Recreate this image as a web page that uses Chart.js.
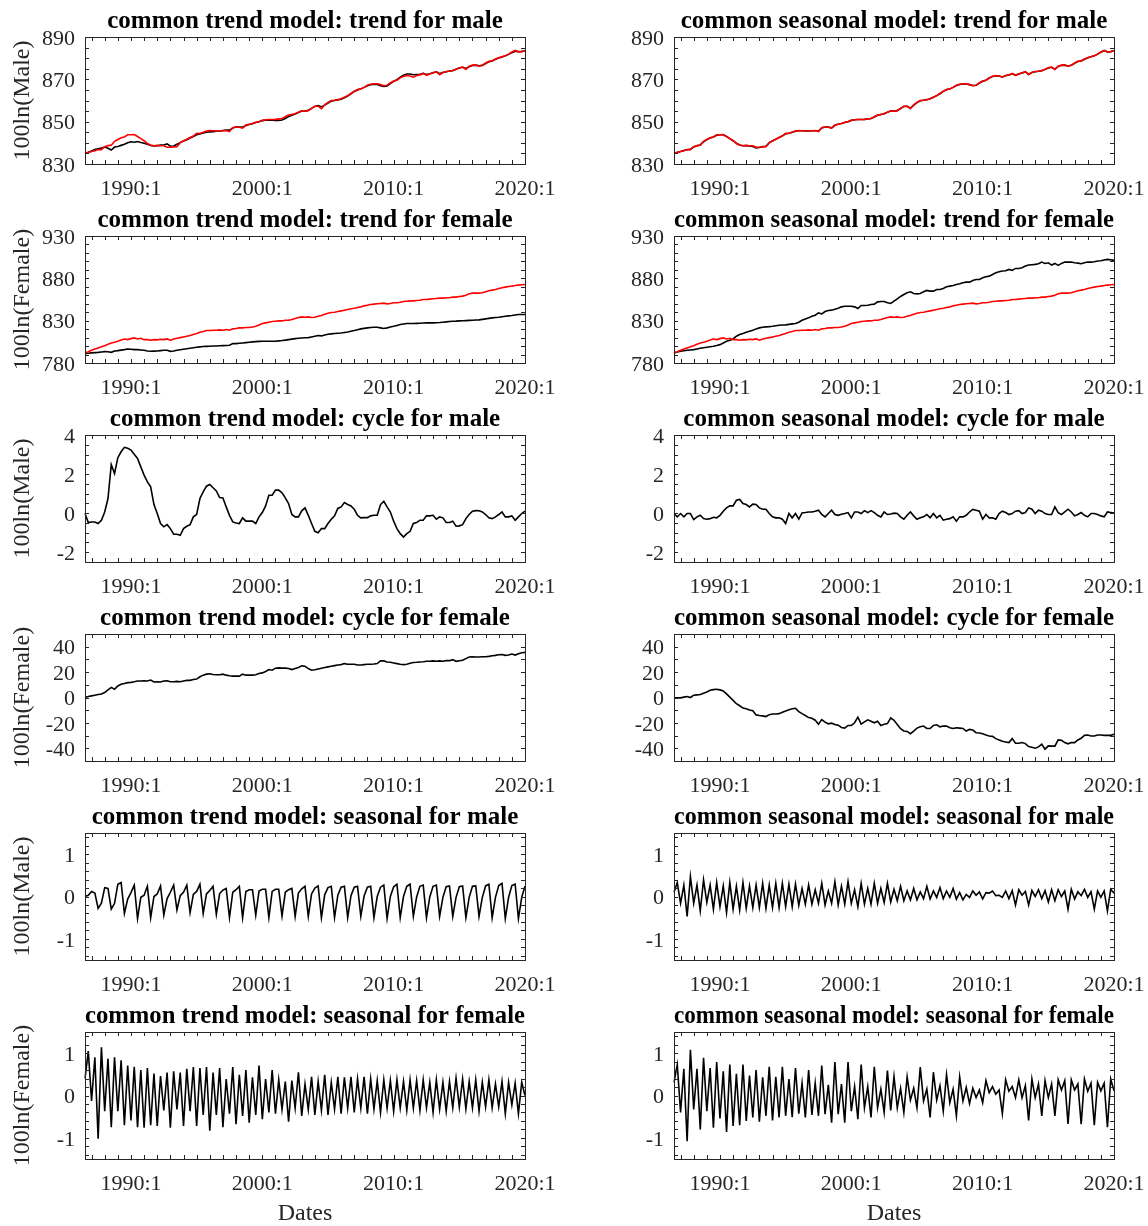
<!DOCTYPE html>
<html>
<head>
<meta charset="utf-8">
<script src="https://cdn.jsdelivr.net/npm/chart.js@4.4.1/dist/chart.umd.min.js"></script>
<style>
  body { margin: 0; background: #fff; }
  #page { position: relative; width: 1148px; height: 1226px; overflow: hidden; background: #fff; }
  #page canvas { position: absolute; }
</style>
</head>
<body>
<div id="page"></div>
<script>
// quarterly dates 1986:3 .. 2020:1
const quarters = [];
for (let y = 1986; y <= 2020; y++) {
  for (let q = 1; q <= 4; q++) {
    if ((y === 1986 && q < 3) || (y === 2020 && q > 1)) continue;
    quarters.push(y + ':' + q);
  }
}
const xTickLabels = ['1990:1', '2000:1', '2010:1', '2020:1'];

// observed series (red)
const maleObs = [
  835.0, 835.4,
  835.9, 836.3, 836.8, 836.8,  838.2, 838.7, 838.9, 840.7,  841.6, 842.4, 842.8, 843.8,
  843.8, 843.9, 843.0, 842.0,  841.0, 839.7, 838.9, 838.6,  838.8, 838.6, 838.6, 837.9,
  837.9, 838.1, 838.2, 840.1,  841.0, 841.7, 842.5, 843.2,  844.5, 844.4, 845.0, 845.6,
  845.8, 845.7, 845.6, 845.6,  845.7, 845.8, 845.3, 847.2,  847.6, 847.4, 847.0, 848.4,
  848.8, 849.1, 849.7, 850.0,  850.7, 850.9, 851.0, 851.0,  851.1, 851.3, 851.5, 852.3,
  853.1, 853.4, 853.7, 854.5,  855.1, 854.9, 855.2, 856.3,  857.3, 857.3, 856.1, 857.9,
  859.1, 860.0, 860.1, 860.4,  860.8, 861.5, 862.3, 863.3,  864.4, 865.2, 865.5, 866.2,
  867.2, 867.7, 867.9, 867.9,  867.5, 867.0, 867.2, 868.3,  869.2, 869.6, 870.7, 871.4,
  871.8, 871.6, 871.0, 871.8,  872.1, 872.8, 871.9, 872.5,  873.1, 873.6, 872.2, 873.2,
  873.7, 873.8, 874.1, 874.8,  875.5, 875.8, 874.7, 876.2,  876.7, 876.7, 876.2, 876.6,
  877.7, 878.5, 878.7, 879.6,  880.2, 880.7, 881.1, 881.9,  882.9, 883.7, 882.9, 883.1,
  883.5
];
const femaleObs = [
  791.9, 793.4,
  795.0, 796.4, 797.8, 799.1,  800.5, 802.1, 803.7, 804.6,  805.7, 807.2, 808.4, 807.6,
  808.8, 809.6, 808.4, 809.2,  807.6, 807.6, 806.9, 807.6,  807.3, 808.0, 807.6, 808.4,
  806.9, 808.4, 809.2, 810.0,  810.8, 811.6, 812.4, 813.6,  814.8, 816.3, 817.1, 818.3,
  818.3, 818.7, 818.7, 819.1,  818.7, 819.5, 818.7, 820.3,  820.7, 821.5, 821.5, 821.9,
  821.9, 822.6, 823.4, 825.0,  826.6, 827.4, 828.2, 829.0,  829.4, 829.7, 829.7, 830.5,
  830.5, 831.3, 832.5, 833.7,  834.5, 834.1, 834.5, 833.7,  834.1, 835.3, 836.1, 837.6,
  838.8, 839.6, 840.0, 840.8,  841.6, 842.4, 843.2, 844.0,  844.7, 845.5, 846.3, 847.5,
  848.3, 849.1, 849.5, 849.9,  850.3, 850.7, 849.9, 850.3,  851.1, 851.1, 851.8, 852.6,
  853.0, 853.4, 853.4, 853.8,  854.2, 855.0, 855.0, 855.4,  855.8, 856.2, 856.6, 856.6,
  857.0, 857.0, 857.8, 857.8,  858.6, 859.0, 860.1, 861.7,  862.5, 862.5, 862.5, 862.9,
  864.1, 865.3, 866.1, 866.8,  868.0, 868.8, 869.6, 870.4,  870.8, 871.6, 872.0, 872.4,
  872.8
];

// common trend model components
const ctMaleTrend = [
  835.0, 835.6,
  836.2, 836.8, 837.2, 837.6,  838.0, 837.4, 836.6, 838.0,  838.3, 838.8, 839.3, 840.0,
  840.5, 840.3, 840.6, 840.2,  839.8, 839.3, 838.8, 838.5,  838.6, 838.9, 839.0, 839.5,
  838.4, 838.5, 839.3, 840.1,  840.8, 841.5, 842.3, 843.0,  843.8, 844.2, 844.6, 845.0,
  845.2, 845.3, 845.5, 845.6,  845.8, 846.0, 846.0, 847.0,  847.5, 847.5, 847.4, 848.2,
  848.7, 849.0, 849.6, 850.0,  850.5, 850.7, 850.8, 850.7,  850.6, 850.6, 850.8, 851.5,
  852.4, 853.0, 853.6, 854.3,  855.0, 855.0, 855.4, 856.3,  857.2, 857.6, 857.0, 857.8,
  858.8, 859.7, 860.0, 860.3,  860.6, 861.3, 862.1, 863.2,  864.3, 865.0, 865.5, 866.2,
  867.0, 867.5, 867.7, 867.6,  867.0, 866.6, 866.9, 868.0,  869.1, 869.8, 871.0, 871.9,
  872.5, 872.5, 872.2, 872.3,  872.4, 872.8, 872.3, 872.6,  873.1, 873.5, 872.7, 873.2,
  873.6, 873.9, 874.2, 874.8,  875.4, 875.7, 875.1, 876.0,  876.5, 876.7, 876.4, 876.6,
  877.5, 878.3, 878.7, 879.5,  880.1, 880.6, 881.1, 881.8,  882.6, 883.3, 883.1, 883.2,
  883.4
];
const ctFemaleTrend = [
  791.1, 791.5,
  792.0, 792.3, 792.6, 793.0,  793.4, 793.2, 792.6, 794.2,  794.6, 795.2, 795.8, 796.6,
  796.2, 795.8, 795.8, 795.4,  795.0, 794.2, 793.8, 794.0,  794.2, 794.6, 795.0, 795.0,
  793.8, 794.2, 795.0, 795.6,  796.2, 796.8, 797.4, 798.0,  798.6, 799.0, 799.4, 799.6,
  799.8, 800.0, 800.1, 800.3,  800.5, 800.7, 800.9, 802.9,  802.9, 803.3, 803.7, 804.1,
  804.5, 804.9, 805.3, 805.5,  805.7, 805.7, 805.7, 805.7,  805.7, 806.1, 806.5, 807.0,
  807.6, 808.2, 808.8, 809.2,  809.6, 809.8, 810.0, 810.8,  811.6, 812.4, 812.0, 813.0,
  814.0, 814.4, 814.8, 815.2,  815.5, 816.1, 816.7, 817.5,  818.3, 819.3, 820.3, 820.9,
  821.5, 821.9, 822.3, 822.3,  821.5, 820.7, 821.5, 822.5,  823.4, 824.4, 825.4, 826.0,
  826.6, 826.6, 826.6, 826.8,  827.0, 827.2, 827.4, 827.4,  827.4, 827.6, 827.8, 828.2,
  828.6, 829.0, 829.4, 829.5,  829.7, 829.9, 830.1, 830.3,  830.5, 830.7, 830.9, 831.5,
  832.1, 832.7, 833.3, 833.7,  834.1, 834.7, 835.3, 835.7,  836.1, 836.7, 837.2, 837.2,
  837.2
];
const ctMaleCycle = [
  -0.02, -0.48,
  -0.45, -0.45, -0.53, -0.36,  0.06, 0.75, 2.49, 2.03,  2.84, 3.14, 3.37, 3.32,
  3.23, 3.01, 2.80, 2.37,  1.95, 1.60, 1.35, 0.44,  -0.02, -0.53, -0.70, -0.59,
  -0.79, -1.08, -1.08, -1.13,  -0.79, -0.67, -0.59, -0.19,  -0.07, 0.75, 1.09, 1.38,
  1.47, 1.30, 1.14, 0.80,  0.78, 0.32, -0.11, -0.45,  -0.50, -0.53, -0.24, -0.41,
  -0.41, -0.41, -0.53, -0.19,  0.03, 0.37, 0.92, 0.92,  1.18, 1.18, 1.04, 0.78,
  0.49, -0.07, -0.19, -0.19,  0.12, 0.27, -0.11, -0.53,  -0.93, -1.00, -0.79, -0.79,
  -0.53, -0.31, -0.14, 0.24,  0.32, 0.54, 0.44, 0.37,  0.20, -0.11, -0.24, -0.23,
  -0.23, -0.14, -0.11, -0.11,  0.44, 0.61, 0.32, 0.06,  -0.41, -0.79, -1.05, -1.22,
  -1.05, -0.93, -0.53, -0.48,  -0.36, -0.36, -0.14, -0.14,  -0.11, -0.31, -0.19, -0.24,
  -0.48, -0.48, -0.41, -0.67,  -0.65, -0.59, -0.28, -0.07,  0.10, 0.13, 0.12, 0.06,
  -0.07, -0.24, -0.28, -0.19,  -0.07, 0.06, -0.19, -0.19,  -0.14, -0.36, -0.19, -0.02,
  0.10
];
const ctFemaleCycle = [
  0.0, 0.8,
  1.3, 1.8, 2.3, 2.8,  3.9, 6.0, 8.0, 6.5,  9.1, 10.4, 11.1, 11.7,
  11.9, 12.4, 13.0, 13.0,  13.2, 13.0, 13.7, 12.2,  12.4, 12.2, 13.0, 13.2,
  12.4, 12.4, 12.7, 12.4,  13.0, 13.5, 13.5, 14.2,  14.5, 16.3, 17.6, 18.4,
  18.7, 18.1, 17.9, 17.9,  18.4, 17.6, 17.1, 16.8,  16.8, 16.8, 18.4, 17.6,
  17.6, 17.6, 17.9, 18.9,  19.4, 20.5, 22.0, 21.5,  23.1, 23.3, 23.1, 23.1,
  22.8, 22.0, 22.8, 23.6,  24.9, 24.6, 22.8, 21.5,  21.8, 22.5, 23.1, 23.6,
  24.1, 24.6, 25.1, 25.6,  25.9, 26.7, 26.2, 26.2,  26.2, 25.6, 25.6, 25.9,
  26.2, 26.2, 26.4, 26.7,  28.8, 28.8, 28.0, 27.7,  27.2, 26.7, 26.2, 25.9,
  26.2, 26.9, 27.5, 27.7,  28.0, 28.2, 28.5, 28.5,  28.8, 28.5, 28.8, 28.5,
  29.0, 29.0, 29.8, 28.5,  29.0, 29.3, 30.6, 31.9,  32.1, 31.9, 31.9, 32.1,
  32.1, 32.4, 32.9, 33.2,  33.7, 33.9, 33.2, 33.4,  34.2, 33.4, 34.5, 35.2,
  35.5
];
const ctMaleSeasonal = [
  0.00, 0.03,
  0.12, 0.08, -0.28, -0.16,  0.21, 0.19, -0.30, -0.16,  0.29, 0.33, -0.40, -0.06,
  0.09, 0.27, -0.52, -0.02,  0.03, 0.24, -0.50, 0.00,  0.06, 0.25, -0.44, -0.05,
  0.10, 0.27, -0.32, 0.02,  0.10, 0.27, -0.38, 0.05,  0.12, 0.29, -0.40, 0.06,
  0.14, 0.24, -0.42, 0.07,  0.15, 0.19, -0.50, 0.10,  0.16, 0.24, -0.50, 0.12,
  0.16, 0.16, -0.44, 0.13,  0.17, 0.17, -0.50, 0.12,  0.17, 0.17, -0.46, 0.10,
  0.16, 0.19, -0.47, 0.08,  0.18, 0.24, -0.47, 0.06,  0.20, 0.25, -0.50, 0.04,
  0.21, 0.24, -0.50, 0.03,  0.22, 0.24, -0.50, 0.02,  0.22, 0.24, -0.47, 0.01,
  0.22, 0.24, -0.50, 0.00,  0.22, 0.27, -0.52, 0.00,  0.23, 0.29, -0.50, 0.00,
  0.24, 0.29, -0.47, -0.01,  0.24, 0.27, -0.50, -0.01,  0.24, 0.27, -0.47, -0.02,
  0.23, 0.25, -0.47, -0.02,  0.23, 0.25, -0.50, -0.02,  0.24, 0.25, -0.47, -0.02,
  0.25, 0.29, -0.50, -0.02,  0.26, 0.31, -0.52, -0.02,  0.26, 0.29, -0.52, -0.02,
  0.24
];
const ctFemaleSeasonal = [
  0.40, 1.05,
  -0.13, 0.90, -1.02, 1.14,  -0.37, 0.87, -0.75, 0.90,  -0.37, 0.83, -0.70, 0.71,
  -0.59, 0.68, -0.75, 0.60,  -0.76, 0.65, -0.70, 0.52,  -0.72, 0.46, -0.35, 0.54,
  -0.76, 0.57, -0.33, 0.54,  -0.72, 0.63, -0.37, 0.67,  -0.72, 0.65, -0.46, 0.67,
  -0.83, 0.54, -0.46, 0.65,  -0.75, 0.39, -0.43, 0.67,  -0.68, 0.49, -0.48, 0.60,
  -0.64, 0.43, -0.46, 0.71,  -0.56, 0.39, -0.40, 0.60,  -0.43, 0.37, -0.33, 0.33,
  -0.62, 0.35, -0.30, 0.55,  -0.48, 0.27, -0.33, 0.44,  -0.46, 0.33, -0.35, 0.49,
  -0.46, 0.31, -0.32, 0.44,  -0.43, 0.43, -0.30, 0.44,  -0.40, 0.39, -0.30, 0.44,
  -0.43, 0.39, -0.32, 0.35,  -0.40, 0.37, -0.30, 0.35,  -0.37, 0.37, -0.29, 0.33,
  -0.35, 0.37, -0.30, 0.35,  -0.35, 0.37, -0.29, 0.31,  -0.40, 0.37, -0.32, 0.31,
  -0.37, 0.33, -0.29, 0.41,  -0.27, 0.39, -0.32, 0.33,  -0.29, 0.37, -0.37, 0.31,
  -0.27, 0.37, -0.29, 0.27,  -0.27, 0.33, -0.43, 0.31,  -0.22, 0.29, -0.43, 0.31,
  0.00
];

// common seasonal model components
const csMaleTrend = [
  835.0, 835.5,
  835.9, 836.4, 836.7, 837.0,  838.0, 838.6, 839.0, 840.5,  841.5, 842.3, 842.8, 843.6,
  843.8, 843.8, 843.0, 842.0,  841.0, 839.8, 839.0, 838.6,  838.7, 838.5, 838.3, 837.6,
  837.8, 838.2, 838.4, 840.0,  840.9, 841.7, 842.5, 843.3,  844.3, 844.5, 845.0, 845.5,
  845.7, 845.7, 845.6, 845.6,  845.7, 845.7, 845.5, 847.0,  847.5, 847.4, 847.1, 848.3,
  848.8, 849.1, 849.6, 850.0,  850.6, 850.9, 851.0, 851.0,  851.1, 851.3, 851.5, 852.2,
  853.0, 853.4, 853.7, 854.4,  855.0, 855.0, 855.2, 856.2,  857.2, 857.3, 856.4, 857.8,
  859.0, 859.9, 860.1, 860.4,  860.8, 861.5, 862.3, 863.2,  864.3, 865.1, 865.5, 866.2,
  867.1, 867.6, 867.8, 867.8,  867.5, 867.1, 867.2, 868.2,  869.1, 869.6, 870.6, 871.3,
  871.7, 871.6, 871.1, 871.7,  872.1, 872.6, 872.0, 872.5,  873.0, 873.5, 872.4, 873.2,
  873.6, 873.8, 874.1, 874.7,  875.4, 875.7, 874.8, 876.1,  876.6, 876.7, 876.3, 876.6,
  877.6, 878.4, 878.7, 879.5,  880.2, 880.7, 881.1, 881.9,  882.8, 883.6, 883.0, 883.1,
  883.5
];
const csFemaleTrend = [
  791.9, 792.9,
  793.8, 794.4, 795.0, 795.4,  795.8, 796.6, 797.4, 798.0,  798.6, 799.2, 799.8, 800.7,
  801.7, 803.7, 805.7, 807.0,  808.4, 811.6, 813.6, 814.8,  816.3, 817.5, 818.7, 820.3,
  821.5, 822.3, 822.7, 823.0,  823.4, 824.0, 824.6, 824.8,  825.0, 825.6, 826.2, 826.6,
  828.2, 830.5, 832.1, 833.3,  835.3, 836.5, 839.2, 838.0,  840.8, 842.0, 842.4, 843.6,
  844.7, 846.3, 847.1, 847.1,  847.1, 846.3, 844.3, 847.9,  847.9, 848.3, 849.1, 849.5,
  852.2, 852.6, 852.6, 851.1,  850.3, 853.0, 855.8, 858.6,  860.9, 862.9, 864.1, 862.1,
  861.7, 862.1, 864.1, 865.7,  864.9, 864.9, 866.8, 866.8,  868.0, 870.0, 870.8, 871.6,
  872.8, 873.6, 874.7, 875.5,  875.5, 877.5, 878.7, 878.7,  880.7, 881.8, 882.6, 884.6,
  886.6, 887.8, 888.6, 889.0,  890.5, 889.4, 891.7, 891.7,  892.5, 894.5, 895.7, 896.1,
  896.5, 897.2, 899.2, 897.6,  898.4, 895.7, 897.6, 895.3,  897.6, 899.2, 899.2, 899.2,
  898.4, 898.0, 897.2, 898.4,  899.2, 899.2, 899.6, 900.4,  900.8, 901.6, 902.4, 902.0,
  901.2
];
const csMaleCycle = [
  -0.02, -0.19,
  -0.02, -0.19, -0.02, -0.02,  -0.33, -0.19, -0.11, -0.28,  -0.31, -0.28, -0.21, -0.24,
  -0.11, 0.10, 0.27, 0.37,  0.37, 0.66, 0.70, 0.49,  0.44, 0.32, 0.46, 0.44,
  0.27, 0.20, 0.20, -0.02,  -0.19, -0.24, -0.24, -0.31,  -0.53, -0.02, -0.24, -0.02,
  -0.31, 0.01, 0.03, 0.06,  0.06, 0.10, 0.15, -0.07,  -0.19, -0.02, 0.15, -0.07,
  -0.11, -0.06, -0.02, 0.03,  -0.24, 0.06, 0.06, -0.02,  0.13, 0.03, 0.13, 0.03,
  -0.11, -0.19, 0.06, -0.07,  -0.04, 0.00, -0.02, -0.19,  -0.31, -0.11, 0.06, -0.14,
  -0.31, -0.24, -0.19, -0.07,  -0.24, -0.02, -0.24, -0.11,  -0.36, -0.31, -0.28, -0.19,
  -0.41, -0.19, -0.19, -0.11,  0.06, 0.19, 0.15, 0.10,  -0.31, -0.07, -0.24, -0.24,
  -0.31, -0.02, 0.10, 0.03,  -0.07, -0.02, 0.10, 0.13,  -0.02, 0.03, 0.27, 0.20,
  -0.02, 0.15, 0.10, -0.02,  -0.07, -0.07, 0.32, 0.03,  -0.07, 0.06, 0.20, 0.06,
  -0.14, -0.07, 0.03, -0.11,  -0.19, -0.02, -0.02, -0.07,  -0.14, -0.19, 0.06, 0.03,
  0.00
];
const csFemaleCycle = [
  -0.3, -0.3,
  -0.3, 0.3, 0.8, 0.0,  1.8, 2.1, 2.3, 3.4,  4.4, 5.7, 6.2, 6.5,
  6.0, 5.2, 2.8, 0.3,  -2.3, -4.9, -6.5, -8.3,  -8.8, -9.8, -10.4, -13.7,
  -14.2, -14.5, -15.0, -13.5,  -13.0, -13.0, -12.7, -11.7,  -10.6, -9.6, -8.8, -8.5,
  -11.1, -12.7, -14.2, -15.8,  -16.3, -17.9, -21.0, -17.4,  -19.4, -20.7, -20.2, -21.2,
  -21.8, -23.6, -24.1, -22.0,  -22.0, -19.9, -15.5, -21.0,  -19.2, -17.6, -18.7, -19.9,
  -18.7, -22.0, -21.0, -20.5,  -16.1, -17.9, -21.2, -24.6,  -26.4, -26.7, -28.5, -26.4,
  -24.1, -23.1, -22.5, -24.4,  -24.4, -22.0, -21.5, -23.1,  -22.5, -22.5, -23.8, -24.4,
  -23.8, -24.1, -24.4, -26.4,  -25.1, -25.6, -27.7, -28.0,  -28.5, -29.5, -30.3, -30.6,
  -32.4, -33.4, -34.5, -35.0,  -35.5, -32.4, -36.0, -36.0,  -35.5, -36.3, -38.6, -39.1,
  -39.9, -38.9, -36.8, -40.7,  -38.1, -38.3, -38.3, -33.4,  -33.7, -35.5, -36.5, -35.5,
  -35.5, -33.4, -32.1, -29.8,  -29.5, -30.3, -30.3, -29.5,  -29.5, -29.8, -29.8, -29.8,
  -29.0
];
const csMaleSeasonal = [
  0.10, 0.33,
  -0.16, 0.27, -0.47, 0.47,  -0.16, 0.27, -0.34, 0.39,  -0.14, 0.27, -0.30, 0.33,
  -0.24, 0.25, -0.38, 0.33,  -0.30, 0.24, -0.32, 0.33,  -0.28, 0.25, -0.26, 0.27,
  -0.26, 0.31, -0.28, 0.27,  -0.26, 0.31, -0.26, 0.31,  -0.24, 0.29, -0.24, 0.29,
  -0.21, 0.19, -0.18, 0.27,  -0.18, 0.16, -0.16, 0.31,  -0.20, 0.13, -0.16, 0.35,
  -0.20, 0.24, -0.18, 0.35,  -0.16, 0.16, -0.24, 0.31,  -0.18, 0.19, -0.18, 0.31,
  -0.16, 0.19, -0.14, 0.31,  -0.13, 0.17, -0.10, 0.24,  -0.10, 0.13, -0.08, 0.19,
  -0.08, 0.11, -0.05, 0.24,  -0.06, 0.13, -0.02, 0.21,  -0.05, 0.13, -0.02, 0.19,
  -0.06, 0.09, -0.08, 0.05,  -0.02, 0.13, 0.03, 0.11,  -0.06, 0.09, 0.08, 0.13,
  0.02, 0.03, -0.02, 0.13,  -0.05, 0.14, -0.20, 0.16,  0.03, 0.12, -0.20, 0.14,
  0.00, 0.16, -0.05, 0.14,  -0.13, 0.16, -0.10, 0.16,  0.00, 0.13, -0.30, 0.17,
  -0.06, 0.11, 0.02, 0.17,  -0.02, 0.11, -0.30, 0.13,  -0.02, 0.13, -0.34, 0.17,
  0.08
];
const csFemaleSeasonal = [
  0.31, 0.73,
  -0.40, 0.63, -1.08, 1.08,  -0.33, 0.63, -0.80, 0.89,  -0.37, 0.65, -0.76, 0.79,
  -0.54, 0.57, -0.86, 0.73,  -0.72, 0.51, -0.70, 0.73,  -0.60, 0.47, -0.52, 0.60,
  -0.62, 0.43, -0.48, 0.68,  -0.59, 0.44, -0.52, 0.68,  -0.48, 0.39, -0.51, 0.65,
  -0.43, 0.29, -0.52, 0.60,  -0.46, 0.29, -0.48, 0.71,  -0.44, 0.25, -0.64, 0.79,
  -0.44, 0.27, -0.64, 0.79,  -0.37, 0.21, -0.56, 0.73,  -0.29, 0.21, -0.52, 0.68,
  -0.29, 0.15, -0.40, 0.59,  -0.35, 0.45, -0.29, 0.17,  -0.40, 0.44, -0.11, 0.17,
  -0.29, 0.67, -0.13, 0.15,  -0.52, 0.55, -0.11, 0.23,  -0.37, 0.49, -0.17, 0.15,
  -0.48, 0.44, -0.13, 0.19,  -0.19, 0.17, -0.05, 0.13,  -0.17, 0.35, 0.07, 0.21,
  0.03, 0.13, -0.43, 0.37,  0.10, 0.21, -0.05, 0.37,  -0.05, 0.23, -0.59, 0.39,
  -0.05, 0.27, -0.48, 0.35,  -0.05, 0.27, -0.48, 0.37,  0.13, 0.35, -0.67, 0.37,
  0.13, 0.27, -0.68, 0.39,  0.10, 0.29, -0.70, 0.31,  0.11, 0.29, -0.75, 0.39,
  0.11
];

// y tick labels
const trendMaleTicks = [830, 850, 870, 890];
const trendFemaleTicks = [780, 830, 880, 930];
const cycleMaleTicks = [-2, 0, 2, 4];
const cycleFemaleTicks = [-40, -20, 0, 20, 40];
const seasonalTicks = [-1, 0, 1];

const SERIF = "'Liberation Serif', 'Times New Roman', serif";
const INK = '#262626';
const rowTop = [37, 236, 435, 634, 833, 1032];

const panels = [
  { row: 0, col: 0, title: 'common trend model: trend for male', ylab: '100ln(Male)',
    range: [830, 890], ticks: trendMaleTicks, minor: 5, lines: [[maleObs, '#ff0000'], [ctMaleTrend, '#000']] },
  { row: 0, col: 1, title: 'common seasonal model: trend for male',
    range: [830, 890], ticks: trendMaleTicks, minor: 5, lines: [[maleObs, '#ff0000'], [csMaleTrend, '#000']] },
  { row: 1, col: 0, title: 'common trend model: trend for female', ylab: '100ln(Female)',
    range: [780, 930], ticks: trendFemaleTicks, minor: 10, lines: [[femaleObs, '#ff0000'], [ctFemaleTrend, '#000']] },
  { row: 1, col: 1, title: 'common seasonal model: trend for female',
    range: [780, 930], ticks: trendFemaleTicks, minor: 10, lines: [[femaleObs, '#ff0000'], [csFemaleTrend, '#000']] },
  { row: 2, col: 0, title: 'common trend model: cycle for male', ylab: '100ln(Male)',
    range: [-2.5, 4], ticks: cycleMaleTicks, minor: 0.5, lines: [[ctMaleCycle, '#000']] },
  { row: 2, col: 1, title: 'common seasonal model: cycle for male',
    range: [-2.5, 4], ticks: cycleMaleTicks, minor: 0.5, lines: [[csMaleCycle, '#000']] },
  { row: 3, col: 0, title: 'common trend model: cycle for female', ylab: '100ln(Female)',
    range: [-50, 50], ticks: cycleFemaleTicks, minor: 10, lines: [[ctFemaleCycle, '#000']] },
  { row: 3, col: 1, title: 'common seasonal model: cycle for female',
    range: [-50, 50], ticks: cycleFemaleTicks, minor: 10, lines: [[csFemaleCycle, '#000']] },
  { row: 4, col: 0, title: 'common trend model: seasonal for male', ylab: '100ln(Male)',
    range: [-1.5, 1.5], ticks: seasonalTicks, minor: 0.2, lines: [[ctMaleSeasonal, '#000']] },
  { row: 4, col: 1, title: 'common seasonal model: seasonal for male',
    range: [-1.5, 1.5], ticks: seasonalTicks, minor: 0.2, lines: [[csMaleSeasonal, '#000']] },
  { row: 5, col: 0, title: 'common trend model: seasonal for female', ylab: '100ln(Female)',
    range: [-1.5, 1.5], ticks: seasonalTicks, minor: 0.2, lines: [[ctFemaleSeasonal, '#000']] },
  { row: 5, col: 1, title: 'common seasonal model: seasonal for female',
    range: [-1.5, 1.5], ticks: seasonalTicks, minor: 0.2, lines: [[csFemaleSeasonal, '#000']] }
];

// box around the axes with inward tick marks on all four sides
const matlabBox = {
  id: 'matlabBox',
  afterDraw(chart, args, opts) {
    const { ctx, chartArea: a, scales: { x, y } } = chart;
    const L = 4;
    ctx.save();
    ctx.strokeStyle = INK;
    ctx.lineWidth = 1;
    ctx.beginPath();
    quarters.forEach((q, i) => {
      if (!q.endsWith(':1')) return;
      const px = Math.round(x.getPixelForValue(i)) + 0.5;
      ctx.moveTo(px, a.bottom); ctx.lineTo(px, a.bottom - L);
      ctx.moveTo(px, a.top); ctx.lineTo(px, a.top + L);
    });
    const n0 = Math.ceil(y.min / opts.minor - 1e-6), n1 = Math.floor(y.max / opts.minor + 1e-6);
    for (let n = n0; n <= n1; n++) {
      const py = Math.round(y.getPixelForValue(n * opts.minor)) + 0.5;
      ctx.moveTo(a.left, py); ctx.lineTo(a.left + L, py);
      ctx.moveTo(a.right, py); ctx.lineTo(a.right - L, py);
    }
    ctx.stroke();
    ctx.strokeRect(Math.round(a.left) + 0.5, Math.round(a.top) + 0.5,
      Math.round(a.right - a.left), Math.round(a.bottom - a.top));
    ctx.restore();
  }
};

const page = document.getElementById('page');

panels.forEach(p => {
  const last = p.row === 5;
  const cv = document.createElement('canvas');
  const left = p.col ? 590 : 0;
  const width = p.col ? 558 : 560;
  const height = last ? 231 : 199;
  cv.width = width; cv.height = height;
  cv.style.left = left + 'px';
  cv.style.top = (rowTop[p.row] - 37) + 'px';
  page.appendChild(cv);

  new Chart(cv.getContext('2d'), {
    type: 'line',
    data: {
      labels: quarters,
      datasets: p.lines.map(([values, color]) => ({
        data: values, borderColor: color, borderWidth: 1.6,
        pointRadius: 0, tension: 0, fill: false
      }))
    },
    options: {
      responsive: false,
      animation: false,
      devicePixelRatio: 1,
      layout: { padding: { left: 0, right: p.col ? 34 : 35, top: 0, bottom: 0 } },
      plugins: {
        legend: { display: false },
        tooltip: { enabled: false },
        title: {
          display: true, text: p.title, fullSize: false, color: '#000',
          font: { family: SERIF, size: 25, weight: 'bold', lineHeight: 1 },
          padding: { top: 9, bottom: 3 }
        },
        matlabBox: { minor: p.minor }
      },
      scales: {
        x: {
          type: 'category',
          grid: { display: false, drawTicks: false },
          border: { display: false },
          ticks: { autoSkip: false, maxRotation: 0, minRotation: 0, padding: 12, color: INK,
                   font: { family: SERIF, size: 22 } },
          afterBuildTicks: s => { s.ticks = xTickLabels.map(l => ({ value: quarters.indexOf(l) })); },
          afterFit: s => { s.height = last ? 67 : 35; s.paddingLeft = 0; s.paddingRight = 0; },
          title: { display: last, text: 'Dates', color: INK,
                   font: { family: SERIF, size: 24, lineHeight: 1 }, padding: { top: 0, bottom: 0 } }
        },
        y: {
          min: p.range[0], max: p.range[1],
          grid: { display: false, drawTicks: false },
          border: { display: false },
          ticks: { padding: 10, labelOffset: 2, color: INK, font: { family: SERIF, size: 22 } },
          afterBuildTicks: s => { s.ticks = p.ticks.map(v => ({ value: v })); },
          afterFit: s => { s.width = p.col ? 84 : 85; s.paddingTop = 0; s.paddingBottom = 0; },
          title: { display: !!p.ylab, text: p.ylab || '', color: INK,
                   font: { family: SERIF, size: 24, lineHeight: 1 }, padding: { top: 11, bottom: 0 } }
        }
      }
    },
    plugins: [matlabBox]
  });
});
</script>
</body>
</html>
